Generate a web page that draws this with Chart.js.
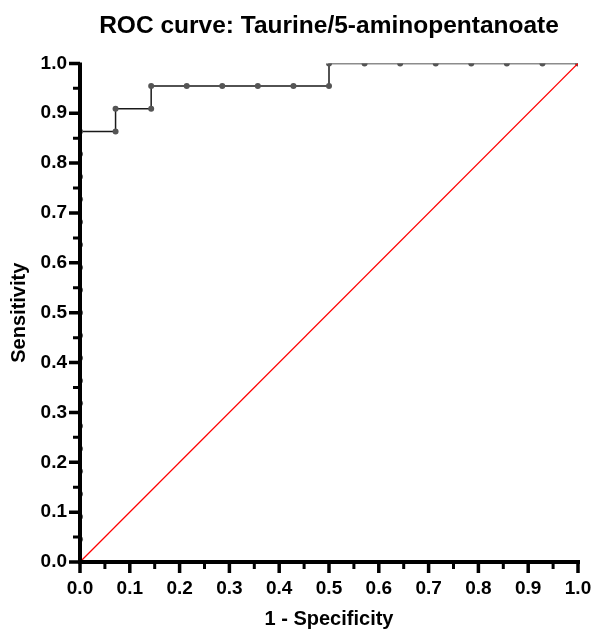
<!DOCTYPE html>
<html>
<head>
<meta charset="utf-8">
<script src="https://cdn.jsdelivr.net/npm/chart.js@4/dist/chart.umd.min.js"></script>
<style>
  html, body { margin: 0; padding: 0; background: #fff; }
  #wrap { width: 595px; height: 632px; }
</style>
</head>
<body>
<div id="wrap"><canvas id="roc"></canvas></div>
<script>
// ROC points (1 - specificity, sensitivity)
const fpr = [0, 0, 0, 0, 0, 0, 0, 0, 0, 0, 0, 0, 0, 0, 0, 0, 0, 0, 0, 0,
  0.0714, 0.0714, 0.1429, 0.1429, 0.2143, 0.2857, 0.3571, 0.4286, 0.5, 0.5,
  0.5714, 0.6429, 0.7143, 0.7857, 0.8571, 0.9286, 1]
const tpr = [0, 0.0455, 0.0909, 0.1364, 0.1818, 0.2273, 0.2727, 0.3182, 0.3636, 0.4091,
  0.4545, 0.5, 0.5455, 0.5909, 0.6364, 0.6818, 0.7273, 0.7727, 0.8182, 0.8636,
  0.8636, 0.9091, 0.9091, 0.9545, 0.9545, 0.9545, 0.9545, 0.9545, 0.9545, 1,
  1, 1, 1, 1, 1, 1, 1]

// reference (chance) line
const diagX = [0, 1]
const diagY = [0, 1]

const axisTicks = [0, 0.1, 0.2, 0.3, 0.4, 0.5, 0.6, 0.7, 0.8, 0.9, 1.0]

const titleText = 'ROC curve: Taurine/5-aminopentanoate'
const xTitle = '1 - Specificity'
const yTitle = 'Sensitivity'

const FONT = 'Liberation Sans, Arial, Helvetica, sans-serif'

// axes, major and minor ticks drawn on top like the Prism export
const prismAxes = {
  id: 'prismAxes',
  afterDatasetsDraw(chart) {
    const ctx = chart.ctx
    const xs = chart.scales.x
    const ys = chart.scales.y
    const x0 = xs.getPixelForValue(0)
    const x1 = xs.getPixelForValue(1)
    const y0 = ys.getPixelForValue(0)
    const y1 = ys.getPixelForValue(1)
    ctx.save()
    ctx.strokeStyle = '#000'
    ctx.lineCap = 'butt'

    ctx.lineWidth = 4
    ctx.beginPath()
    ctx.moveTo(x0, y1 - 1)
    ctx.lineTo(x0, y0 + 2)
    ctx.moveTo(x0 - 2, y0)
    ctx.lineTo(x1 + 2, y0)
    ctx.stroke()

    axisTicks.forEach((v, i) => {
      const px = xs.getPixelForValue(v)
      const py = ys.getPixelForValue(v)
      ctx.lineWidth = 3.5
      ctx.beginPath()
      ctx.moveTo(px, y0)
      ctx.lineTo(px, y0 + 11)
      ctx.moveTo(x0, py)
      ctx.lineTo(x0 - 11, py)
      ctx.stroke()
      if (i < axisTicks.length - 1) {
        const m = (v + axisTicks[i + 1]) / 2
        const mx = xs.getPixelForValue(m)
        const my = ys.getPixelForValue(m)
        ctx.lineWidth = 3
        ctx.beginPath()
        ctx.moveTo(mx, y0)
        ctx.lineTo(mx, y0 + 7)
        ctx.moveTo(x0, my)
        ctx.lineTo(x0 - 7, my)
        ctx.stroke()
      }
    })
    ctx.restore()
  }
}

new Chart(document.getElementById('roc'), {
  type: 'scatter',
  data: {
    datasets: [
      {
        label: 'Chance',
        data: diagX.map((x, i) => ({ x: x, y: diagY[i] })),
        showLine: true,
        borderColor: '#ff0000',
        borderWidth: 1.25,
        pointRadius: 0
      },
      {
        label: 'ROC',
        data: fpr.map((x, i) => ({ x: x, y: tpr[i] })),
        showLine: true,
        borderColor: '#1a1a1a',
        borderWidth: 1.5,
        pointRadius: 3,
        pointBackgroundColor: '#555',
        pointBorderWidth: 0
      }
    ]
  },
  options: {
    responsive: true,
    maintainAspectRatio: false,
    animation: false,
    layout: { padding: { left: 0, right: 17, top: 0, bottom: 0 } },
    plugins: {
      legend: { display: false },
      tooltip: { enabled: false },
      title: {
        display: true,
        text: titleText,
        fullSize: false,
        color: '#000',
        font: { family: FONT, size: 24.5, weight: 'bold' },
        padding: { top: 12, bottom: 22 }
      }
    },
    scales: {
      x: {
        type: 'linear',
        min: 0,
        max: 1,
        afterFit: s => {
          s.height = 70
          s.paddingLeft = 0
          s.paddingRight = 0
        },
        grid: { display: false, drawTicks: false },
        border: { display: false },
        ticks: {
          stepSize: 0.1,
          padding: 15,
          color: '#000',
          font: { family: FONT, size: 19, weight: 'bold' },
          callback: v => v.toFixed(1)
        },
        title: {
          display: true,
          text: xTitle,
          color: '#000',
          font: { family: FONT, size: 20, weight: 'bold' },
          padding: { top: 0, bottom: 1 }
        }
      },
      y: {
        type: 'linear',
        min: 0,
        max: 1,
        afterFit: s => {
          s.width = 80
          s.paddingTop = 0
          s.paddingBottom = 0
        },
        grid: { display: false, drawTicks: false },
        border: { display: false },
        ticks: {
          stepSize: 0.1,
          padding: 13,
          color: '#000',
          font: { family: FONT, size: 19, weight: 'bold' },
          callback: v => v.toFixed(1)
        },
        title: {
          display: true,
          text: yTitle,
          color: '#000',
          font: { family: FONT, size: 20, weight: 'bold' },
          padding: { top: 7, bottom: 0 }
        }
      }
    }
  },
  plugins: [prismAxes]
})
</script>
</body>
</html>
